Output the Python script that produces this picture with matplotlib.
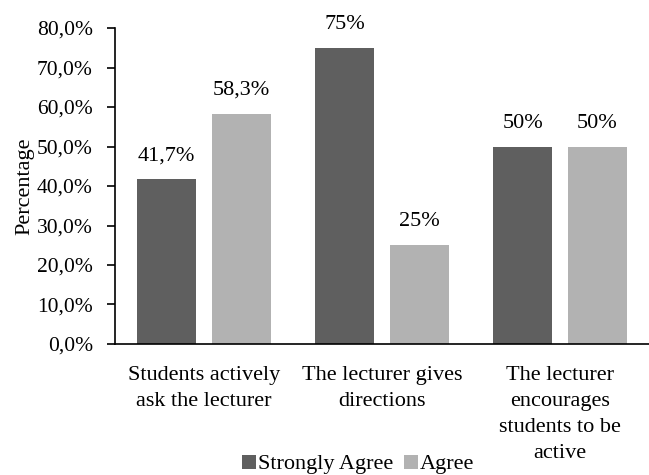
import numpy as np
import matplotlib.pyplot as plt
from matplotlib.ticker import FuncFormatter

categories = ['Students actively\nask the lecturer',
              'The lecturer gives\ndirections',
              'The lecturer\nencourages\nstudents to be\nactive']
strongly_agree = [41.7, 75.0, 50.0]
agree = [58.3, 25.0, 50.0]
strongly_labels = ['41,7%', '75%', '50%']
agree_labels = ['58,3%', '25%', '50%']

plt.rcParams['font.family'] = ['Liberation Serif', 'DejaVu Serif']
plt.rcParams['font.size'] = 16

fig = plt.figure(figsize=(6.49, 4.75), dpi=100)
ax = fig.add_axes([0.1772, 0.2758, 0.8228, 0.6652])

x = np.arange(len(categories))
w = 0.335
off = 0.21
b1 = ax.bar(x - off, strongly_agree, w, color='#5f5f5f', label='Strongly Agree')
b2 = ax.bar(x + off, agree, w, color='#b2b2b2', label='Agree')

for bars, labels in ((b1, strongly_labels), (b2, agree_labels)):
  for bar, lab in zip(bars, labels):
    ax.annotate(lab, (bar.get_x() + bar.get_width() / 2, bar.get_height()),
                xytext=(0, 10), textcoords='offset points',
                ha='center', va='bottom', fontsize=16)

ax.set_xlim(-0.5, 2.5)
ax.set_ylim(0, 80)
ax.set_yticks(np.arange(0, 81, 10))
ax.yaxis.set_major_formatter(FuncFormatter(lambda v, p: ('%.1f%%' % v).replace('.', ',')))
ax.set_xticks(x)
ax.set_xticklabels(categories, linespacing=1.5, va='top', fontsize=16)
ax.tick_params(axis='x', length=0, pad=16)
ax.tick_params(axis='y', length=6, width=1.2, direction='out', pad=10, labelsize=15.5)
ax.set_ylabel('Percentage', fontsize=16, labelpad=2)

for s in ('top', 'right'):
  ax.spines[s].set_visible(False)
ax.spines['left'].set_linewidth(1.2)
ax.spines['bottom'].set_linewidth(1.2)

fig.legend(handles=[b1, b2], loc='center', bbox_to_anchor=(0.552, 0.022),
           ncol=2, frameon=False, handlelength=0.6, handleheight=0.6,
           handletextpad=0.1, columnspacing=0.5, fontsize=16)

fig.savefig('out.png', dpi=100)
